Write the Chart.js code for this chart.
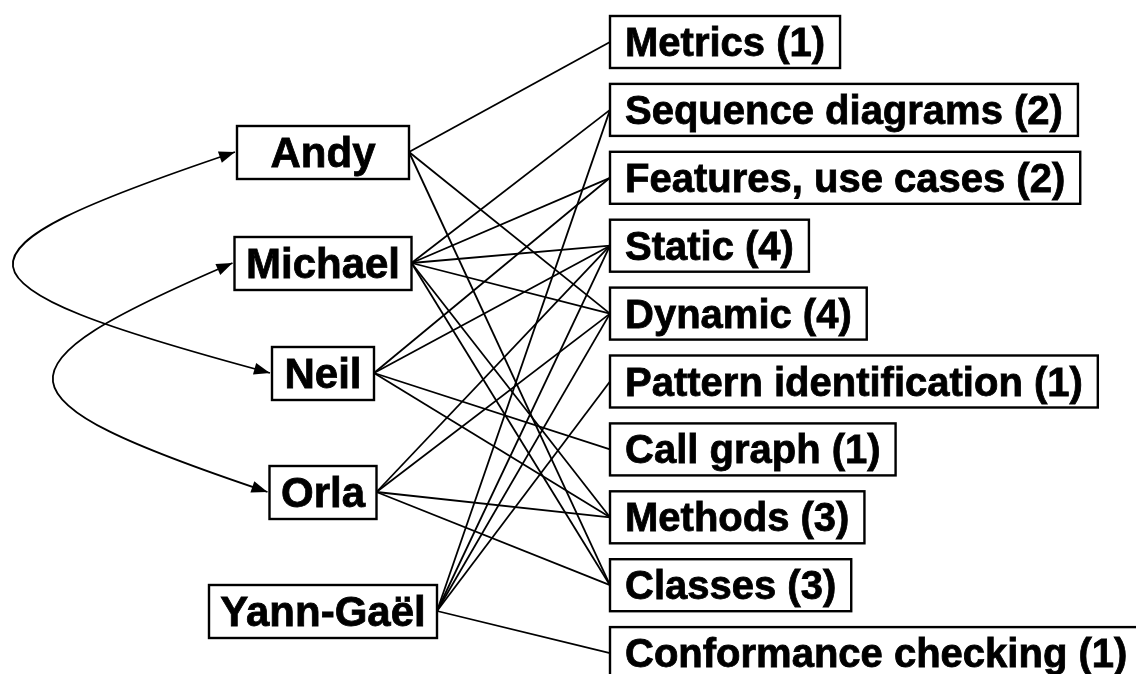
<!DOCTYPE html>
<html>
<head>
<meta charset="utf-8">
<script src="https://cdn.jsdelivr.net/npm/chart.js@4"></script>
<style>
  body { margin: 0; background: #fff; }
  canvas { display: block; }
</style>
</head>
<body>
<canvas id="graphChart" width="1136" height="674"></canvas>
<script>
const people = ["Andy", "Michael", "Neil", "Orla", "Yann-Gaël"];
const topics = ["Metrics", "Sequence diagrams", "Features, use cases", "Static", "Dynamic",
  "Pattern identification", "Call graph", "Methods", "Classes", "Conformance checking"];
const topicCounts = [1, 2, 2, 4, 4, 1, 1, 3, 3, 1];
const links = [
  ["Andy", "Metrics"], ["Andy", "Dynamic"], ["Andy", "Classes"],
  ["Michael", "Sequence diagrams"], ["Michael", "Features, use cases"], ["Michael", "Static"],
  ["Michael", "Dynamic"], ["Michael", "Methods"], ["Michael", "Classes"],
  ["Neil", "Features, use cases"], ["Neil", "Static"], ["Neil", "Call graph"], ["Neil", "Methods"],
  ["Orla", "Static"], ["Orla", "Dynamic"], ["Orla", "Methods"], ["Orla", "Classes"],
  ["Yann-Gaël", "Sequence diagrams"], ["Yann-Gaël", "Static"], ["Yann-Gaël", "Dynamic"],
  ["Yann-Gaël", "Pattern identification"], ["Yann-Gaël", "Conformance checking"]
];
const pairs = [["Andy", "Neil"], ["Michael", "Orla"]];

// layout
const LEFT_FONT = "bold 42px 'Liberation Sans', Arial, sans-serif";
const RIGHT_FONT = "bold 40px 'Liberation Sans', Arial, sans-serif";
const leftCx = 323;
const leftRowY = [152, 263, 373, 492, 611];
const leftBoxW = [172, 177, 102, 107, 228];
const boxH = 52;
const rightX = 610, rightY0 = 42, rightStep = 67.9, rightPad = 15;
const curveReach = [13, 53];

const leftAnchor = name => {
  const i = people.indexOf(name);
  return { x: leftCx + leftBoxW[i] / 2, y: leftRowY[i] };
};
const rightAnchor = name => ({ x: rightX, y: rightY0 + topics.indexOf(name) * rightStep });

function arrowHead(c, tip, from) {
  const a = Math.atan2(tip.y - from.y, tip.x - from.x);
  const len = 16, half = 6;
  c.beginPath();
  c.moveTo(tip.x, tip.y);
  c.lineTo(tip.x - len * Math.cos(a) + half * Math.sin(a), tip.y - len * Math.sin(a) - half * Math.cos(a));
  c.lineTo(tip.x - len * Math.cos(a) - half * Math.sin(a), tip.y - len * Math.sin(a) + half * Math.cos(a));
  c.closePath();
  c.fill();
}

function boldText(c, s, x, y) {
  c.fillText(s, x, y);
  c.lineWidth = 0.8;
  c.strokeText(s, x, y);
}

const boxPlugin = {
  id: "boxes",
  afterDatasetsDraw(chart) {
    const c = chart.ctx;
    const sx = v => chart.scales.x.getPixelForValue(v);
    const sy = v => chart.scales.y.getPixelForValue(v);
    c.save();
    c.strokeStyle = "#000";
    c.fillStyle = "#000";

    // curved double arrows between people
    pairs.forEach(([a, b], k) => {
      const ia = people.indexOf(a), ib = people.indexOf(b);
      const p0 = { x: leftCx - leftBoxW[ia] / 2 - 2, y: leftRowY[ia] };
      const p3 = { x: leftCx - leftBoxW[ib] / 2 - 2, y: leftRowY[ib] };
      const dy = p3.y - p0.y;
      const cx = (8 * curveReach[k] - p0.x - p3.x) / 6;
      const p1 = { x: cx, y: p0.y + 0.46 * dy };
      const p2 = { x: cx, y: p3.y - 0.41 * dy };
      const P = p => ({ x: sx(p.x), y: sy(p.y) });
      const q0 = P(p0), q1 = P(p1), q2 = P(p2), q3 = P(p3);
      c.lineWidth = 1.8;
      c.beginPath();
      c.moveTo(q0.x, q0.y);
      c.bezierCurveTo(q1.x, q1.y, q2.x, q2.y, q3.x, q3.y);
      c.stroke();
      const t = 0.06;
      const bz = (u) => ({
        x: (1-u)**3*q0.x + 3*(1-u)**2*u*q1.x + 3*(1-u)*u*u*q2.x + u**3*q3.x,
        y: (1-u)**3*q0.y + 3*(1-u)**2*u*q1.y + 3*(1-u)*u*u*q2.y + u**3*q3.y
      });
      arrowHead(c, q0, bz(t));
      arrowHead(c, q3, bz(1 - t));
    });

    c.textBaseline = "middle";

    people.forEach((name, i) => {
      const w = leftBoxW[i];
      const x0 = sx(leftCx - w / 2), y0 = sy(leftRowY[i] - boxH / 2);
      c.fillStyle = "#fff";
      c.fillRect(x0, y0, w, boxH + 1);
      c.lineWidth = 2.4;
      c.strokeRect(x0, y0, w, boxH + 1);
      c.fillStyle = "#000";
      c.font = LEFT_FONT;
      c.textAlign = "center";
      boldText(c, name, sx(leftCx), sy(leftRowY[i]) + 3);
    });

    c.font = RIGHT_FONT;
    topics.forEach((name, i) => {
      const label = name + " (" + topicCounts[i] + ")";
      const w = c.measureText(label).width + 2 * rightPad;
      const cy = rightY0 + i * rightStep;
      const x0 = sx(rightX), y0 = sy(cy - boxH / 2);
      c.fillStyle = "#fff";
      c.fillRect(x0, y0, w, boxH);
      c.lineWidth = 2.4;
      c.strokeRect(x0, y0, w, boxH);
      c.fillStyle = "#000";
      c.textAlign = "left";
      boldText(c, label, x0 + rightPad, sy(cy) + 3);
    });
    c.restore();
  }
};

const ctx = document.querySelector("#graphChart");

const chart = new Chart(ctx, {
  type: "scatter",
  data: {
    datasets: links.map(([p, t]) => ({
      label: p + " - " + t,
      data: [leftAnchor(p), rightAnchor(t)],
      showLine: true,
      borderColor: "#000",
      borderWidth: 1.8,
      pointRadius: 0,
      fill: false,
    })),
  },
  options: {
    responsive: false,
    animation: false,
    layout: { padding: 0 },
    scales: {
      x: { type: "linear", min: 0, max: 1136, display: false },
      y: { type: "linear", min: 0, max: 674, reverse: true, display: false },
    },
    plugins: { legend: { display: false }, tooltip: { enabled: false } },
  },
  plugins: [boxPlugin],
});
</script>
</body>
</html>
